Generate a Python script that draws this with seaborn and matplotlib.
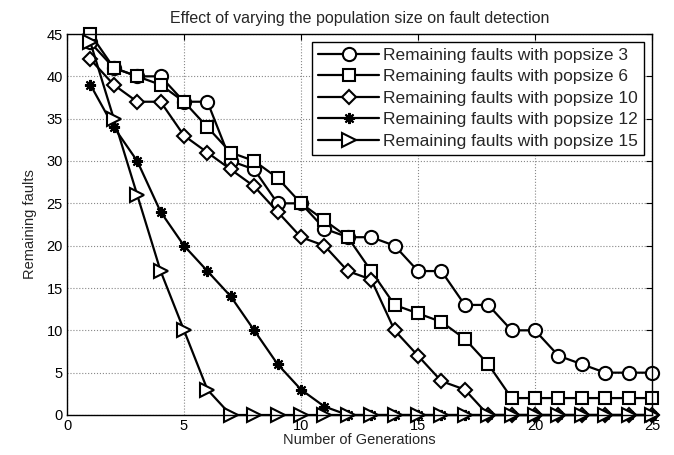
import matplotlib
matplotlib.use("Agg")
import matplotlib.pyplot as plt
import seaborn as sns
import pandas as pd

generations = list(range(1, 26))

faults_pop3 = [44, 41, 40, 40, 37, 37, 30, 29, 25, 25, 22, 21, 21, 20, 17, 17, 13, 13, 10, 10, 7, 6, 5, 5, 5]
faults_pop6 = [45, 41, 40, 39, 37, 34, 31, 30, 28, 25, 23, 21, 17, 13, 12, 11, 9, 6, 2, 2, 2, 2, 2, 2, 2]
faults_pop10 = [42, 39, 37, 37, 33, 31, 29, 27, 24, 21, 20, 17, 16, 10, 7, 4, 3, 0, 0, 0, 0, 0, 0, 0, 0]
faults_pop12 = [39, 34, 30, 24, 20, 17, 14, 10, 6, 3, 1, 0, 0, 0, 0, 0, 0, 0, 0, 0, 0, 0, 0, 0, 0]
faults_pop15 = [44, 35, 26, 17, 10, 3, 0, 0, 0, 0, 0, 0, 0, 0, 0, 0, 0, 0, 0, 0, 0, 0, 0, 0, 0]

series_labels = [
    "Remaining faults with popsize 3",
    "Remaining faults with popsize 6",
    "Remaining faults with popsize 10",
    "Remaining faults with popsize 12",
    "Remaining faults with popsize 15",
]
x_ticks = [0, 5, 10, 15, 20, 25]
y_ticks = [0, 5, 10, 15, 20, 25, 30, 35, 40, 45]

sns.set_style("white")
plt.rcParams["font.family"] = ["Liberation Sans", "DejaVu Sans"]

fig = plt.figure(figsize=(6.74, 4.55), dpi=100)
ax = fig.add_axes([67 / 674, 40 / 455, 585 / 674, 381 / 455])

all_series = [faults_pop3, faults_pop6, faults_pop10, faults_pop12, faults_pop15]
markers = ["o", "s", "D", (8, 2, 0), ">"]
sizes = [9.5, 8.5, 7.5, 8, 10.5]

for vals, lab, mk, ms in zip(all_series, series_labels, markers, sizes):
    df = pd.DataFrame({"Generation": generations, "Faults": vals})
    sns.lineplot(data=df, x="Generation", y="Faults", ax=ax, color="black",
                 linewidth=1.6, marker=mk, markersize=ms,
                 markerfacecolor="white", markeredgecolor="black",
                 markeredgewidth=1.5, label=lab, clip_on=False)

ax.set_xlim(0, 25)
ax.set_ylim(0, 45)
ax.set_xticks(x_ticks)
ax.set_yticks(y_ticks)
ax.tick_params(axis="both", direction="in", top=True, right=True,
               labelsize=10.5, length=4, width=0.8, colors="black", pad=3)
ax.grid(True, linestyle=":", color="#888888", linewidth=0.8)
for sp in ax.spines.values():
    sp.set_color("black")
    sp.set_linewidth(1.0)

ax.set_xlabel("Number of Generations", fontsize=10.5, labelpad=0)
ax.set_ylabel("Remaining faults", fontsize=10.5, labelpad=7)
ax.set_title("Effect of varying the population size on fault detection",
             fontsize=11.5, pad=8)

leg = ax.legend(loc="upper right", fontsize=12.5, frameon=True, fancybox=False,
                edgecolor="black", framealpha=1, borderaxespad=0.45,
                handlelength=3.5, handletextpad=0.25, labelspacing=0.36,
                borderpad=0.35)
leg.get_frame().set_linewidth(1.0)

fig.savefig("out.png", dpi=100)
